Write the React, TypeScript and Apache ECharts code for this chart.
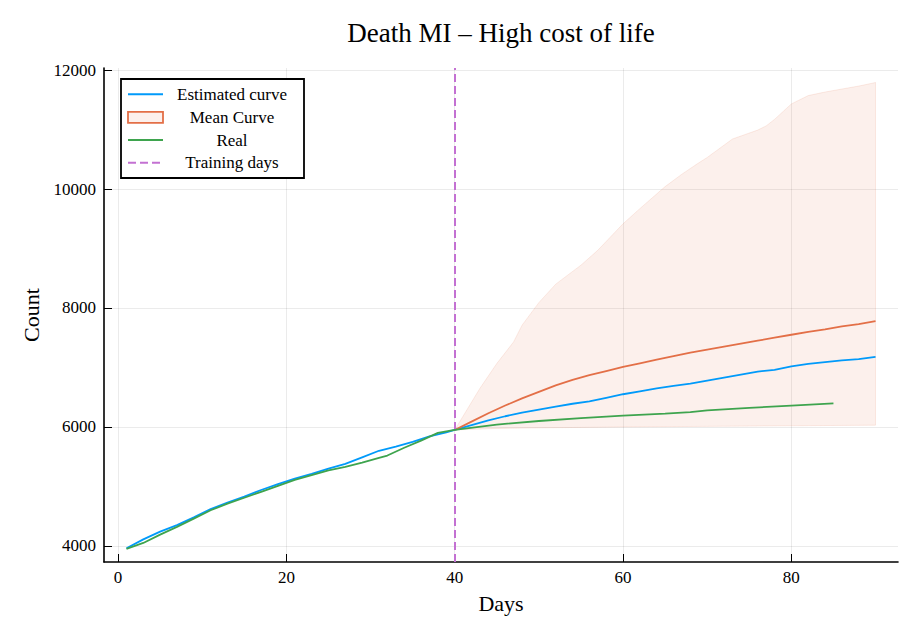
import React, { useEffect, useRef } from "react";
import * as echarts from "echarts";

const estDays = [1, 3, 5, 7, 9, 11, 13, 15, 17, 19, 21, 23, 25, 27, 29, 31, 33, 35, 37, 39, 40, 42, 44, 46, 48, 50, 52, 54, 56, 58, 60, 62, 64, 66, 68, 70, 72, 74, 76, 78, 80, 82, 84, 86, 88, 90];
const estValues = [3960, 4110, 4240, 4350, 4480, 4620, 4730, 4830, 4940, 5040, 5130, 5210, 5300, 5380, 5490, 5600, 5670, 5750, 5840, 5910, 5950, 6030, 6110, 6180, 6240, 6290, 6340, 6390, 6430, 6490, 6550, 6600, 6650, 6690, 6730, 6780, 6830, 6880, 6930, 6960, 7020, 7060, 7090, 7120, 7140, 7177];

const realDays = [1, 3, 5, 7, 9, 11, 13, 15, 17, 19, 21, 23, 25, 27, 29, 31, 32, 34, 36, 38, 40, 45, 50, 55, 60, 65, 68, 70, 75, 80, 85];
const realValues = [3950, 4050, 4190, 4320, 4460, 4600, 4710, 4810, 4910, 5010, 5110, 5190, 5270, 5330, 5400, 5480, 5520, 5650, 5770, 5900, 5950, 6040, 6100, 6150, 6190, 6225, 6250, 6280, 6320, 6360, 6395];

const meanDays = [40, 42, 44, 46, 48, 50, 52, 54, 56, 58, 60, 62, 64, 66, 68, 70, 72, 74, 76, 78, 80, 82, 84, 86, 88, 90];
const meanValues = [5950, 6090, 6230, 6360, 6480, 6590, 6700, 6790, 6870, 6940, 7010, 7070, 7130, 7190, 7250, 7300, 7350, 7400, 7450, 7500, 7550, 7600, 7640, 7690, 7730, 7780];

const bandUpperDays = [40, 43, 45, 47, 48, 50, 52, 55, 57, 60, 62, 65, 67, 69, 70, 73, 76, 77, 78, 80, 82, 84, 86, 88, 90];
const bandUpperValues = [5950, 6650, 7066, 7430, 7710, 8090, 8400, 8720, 8970, 9415, 9670, 10040, 10250, 10440, 10530, 10840, 10990, 11060, 11170, 11430, 11570, 11630, 11680, 11730, 11790];
const bandLowerDays = [40, 45, 50, 60, 70, 80, 90];
const bandLowerValues = [5950, 5975, 5985, 6000, 6010, 6020, 6030];

const trainingDay = 40;
const xTicks = [0, 20, 40, 60, 80];
const yTicks = [4000, 6000, 8000, 10000, 12000];
const legendLabels = ["Estimated curve", "Mean Curve", "Real", "Training days"];

const BLUE = "#009AFA";
const ORANGE = "#E36F47";
const GREEN = "#3EA44E";
const PURPLE = "#C371D2";
const FONT = "Liberation Serif";

export default function App() {
  const ref = useRef<HTMLDivElement>(null);

  useEffect(() => {
    if (!ref.current) return;
    const chart = echarts.init(ref.current, undefined, { renderer: "svg" });

    const toPairs = (xs: number[], ys: number[]) => xs.map((d, i) => [d, ys[i]]);

    const legendTop = 79;
    const rowYs = [94.3, 117.3, 140, 162.7];
    const sx0 = 128;
    const sx1 = 163;
    const textX = 232;

    const legendGraphics: any[] = [
      {
        type: "rect",
        shape: { x: 121, y: legendTop, width: 183, height: 99 },
        style: { fill: "#fff", stroke: "#000", lineWidth: 1.8 },
        z: 100,
      },
      {
        type: "line",
        shape: { x1: sx0, y1: rowYs[0], x2: sx1, y2: rowYs[0] },
        style: { stroke: BLUE, lineWidth: 2 },
        z: 101,
      },
      {
        type: "rect",
        shape: { x: sx0, y: rowYs[1] - 5.5, width: sx1 - sx0, height: 11 },
        style: { fill: "rgba(227,111,71,0.1)", stroke: ORANGE, lineWidth: 1.8 },
        z: 101,
      },
      {
        type: "line",
        shape: { x1: sx0, y1: rowYs[2], x2: sx1, y2: rowYs[2] },
        style: { stroke: GREEN, lineWidth: 2 },
        z: 101,
      },
      {
        type: "line",
        shape: { x1: sx0, y1: rowYs[3], x2: sx1, y2: rowYs[3] },
        style: { stroke: PURPLE, lineWidth: 2, lineDash: [8, 4] },
        z: 101,
      },
      ...legendLabels.map((t, i) => ({
        type: "text",
        x: textX,
        y: rowYs[i],
        style: {
          text: t,
          fontFamily: FONT,
          fontSize: 17,
          fill: "#000",
          align: "center",
          verticalAlign: "middle",
        },
        z: 101,
      })),
    ];

    const plain = (v: number) => String(Math.round(v));

    const option: any = {
      animation: false,
      backgroundColor: "#fff",
      title: {
        text: "Death MI \u2013 High cost of life",
        left: 501,
        top: 19,
        padding: 0,
        textAlign: "center",
        textStyle: { fontFamily: FONT, fontSize: 27, fontWeight: "normal", color: "#000" },
      },
      grid: { left: 104, top: 68, width: 794, height: 494, containLabel: false },
      xAxis: {
        type: "value",
        min: -1.67,
        max: 92.67,
        name: "Days",
        nameLocation: "middle",
        nameGap: 30,
        nameTextStyle: { fontFamily: FONT, fontSize: 22, color: "#000" },
        axisLine: { show: true, onZero: false, lineStyle: { color: "#000", width: 1.6 } },
        axisTick: { show: true, inside: true, length: 8, customValues: xTicks, lineStyle: { color: "#000", width: 1 } },
        axisLabel: { customValues: xTicks, formatter: plain, margin: 7, fontFamily: FONT, fontSize: 17, color: "#000" },
        splitLine: { show: true, lineStyle: { color: "rgba(0,0,0,0.1)", width: 0.8 } },
      },
      yAxis: {
        type: "value",
        min: 3730,
        max: 12034,
        name: "Count",
        nameLocation: "middle",
        nameGap: 61,
        nameTextStyle: { fontFamily: FONT, fontSize: 22, color: "#000" },
        axisLine: { show: true, onZero: false, lineStyle: { color: "#000", width: 1.6 } },
        axisTick: { show: true, inside: true, length: 8, customValues: yTicks, lineStyle: { color: "#000", width: 1 } },
        axisLabel: { customValues: yTicks, formatter: plain, margin: 8, fontFamily: FONT, fontSize: 17, color: "#000" },
        splitLine: { show: true, lineStyle: { color: "rgba(0,0,0,0.1)", width: 0.8 } },
      },
      series: [
        {
          type: "line",
          name: legendLabels[0],
          data: toPairs(estDays, estValues),
          showSymbol: false,
          symbol: "none",
          lineStyle: { color: BLUE, width: 1.8 },
          itemStyle: { color: BLUE },
          z: 3,
        },
        {
          type: "custom",
          name: "Mean Curve band",
          data: toPairs(bandUpperDays, bandUpperValues),
          encode: { x: 0, y: 1 },
          clip: true,
          z: 2,
          renderItem: (params: any, api: any) => {
            if (params.dataIndex !== 0) return null;
            const pts: number[][] = [];
            bandUpperDays.forEach((d, i) => pts.push(api.coord([d, bandUpperValues[i]])));
            for (let i = bandLowerDays.length - 1; i >= 0; i--) {
              pts.push(api.coord([bandLowerDays[i], bandLowerValues[i]]));
            }
            return {
              type: "polygon",
              shape: { points: pts },
              style: { fill: "rgba(227,111,71,0.1)", stroke: "rgba(227,111,71,0.13)", lineWidth: 1 },
            };
          },
        },
        {
          type: "line",
          name: legendLabels[1],
          data: toPairs(meanDays, meanValues),
          showSymbol: false,
          symbol: "none",
          lineStyle: { color: ORANGE, width: 1.8 },
          itemStyle: { color: ORANGE },
          z: 4,
        },
        {
          type: "line",
          name: legendLabels[2],
          data: toPairs(realDays, realValues),
          showSymbol: false,
          symbol: "none",
          lineStyle: { color: GREEN, width: 1.8 },
          itemStyle: { color: GREEN },
          z: 5,
        },
        {
          type: "line",
          name: legendLabels[3],
          data: [],
          showSymbol: false,
          symbol: "none",
          z: 6,
          markLine: {
            silent: true,
            symbol: ["none", "none"],
            label: { show: false },
            lineStyle: { color: PURPLE, type: [8, 4], width: 2 },
            data: [{ xAxis: trainingDay }],
          },
        },
      ],
      graphic: legendGraphics,
    };

    chart.setOption(option);
    return () => {
      chart.dispose();
    };
  }, []);

  return (
    <div
      ref={ref}
      style={{ position: "absolute", left: 0, top: 0, width: 903, height: 626, background: "#fff" }}
    />
  );
}
